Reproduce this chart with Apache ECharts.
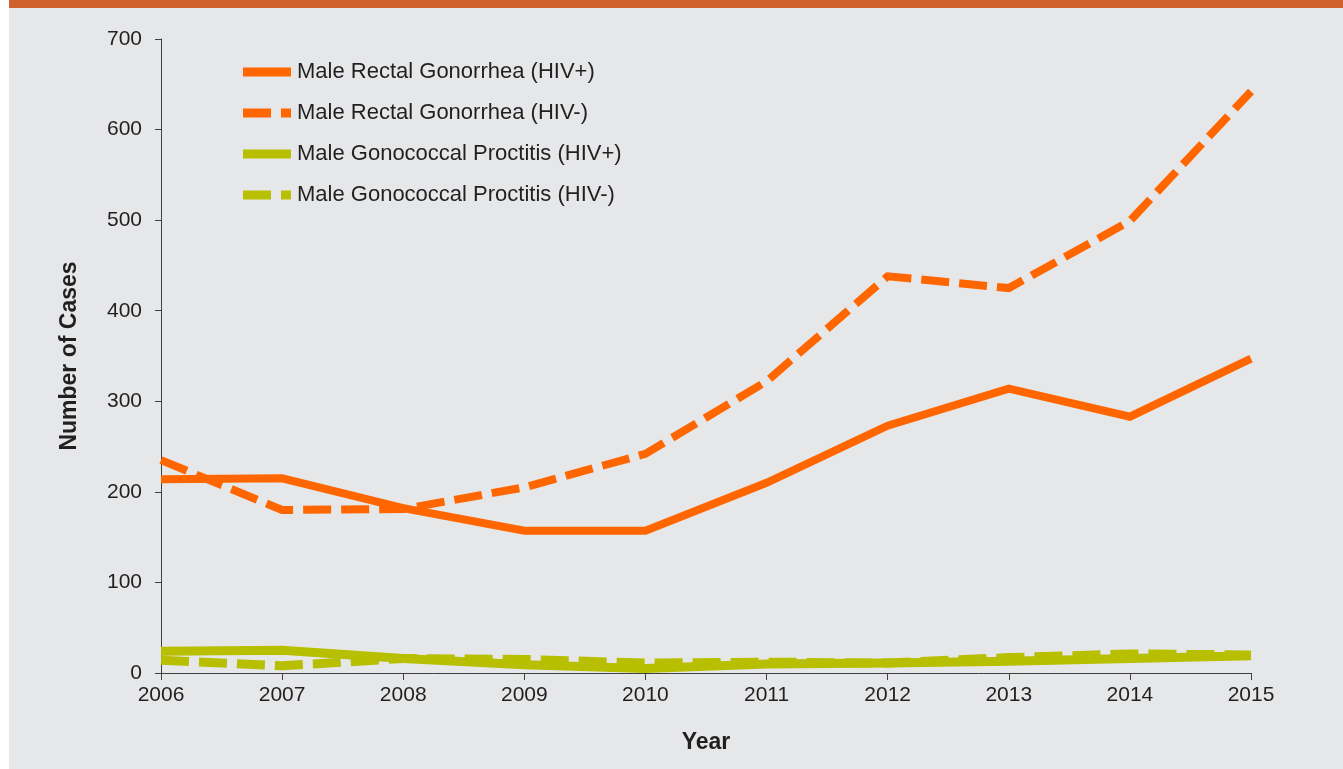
<!DOCTYPE html>
<html>
<head>
<meta charset="utf-8">
<script src="https://cdn.jsdelivr.net/npm/echarts@6/dist/echarts.min.js"></script>
<style>
html,body{margin:0;padding:0;background:#ffffff;}
#chart{width:1343px;height:769px;}
</style>
</head>
<body>
<div id="chart"></div>
<script>
const years = ['2006','2007','2008','2009','2010','2011','2012','2013','2014','2015'];
const rectalHivPos = [214, 215, 182, 157, 157, 210, 273, 314, 283, 347];
const rectalHivNeg = [235, 180, 181, 205, 242, 322, 438, 425, 499, 642];
const proctitisHivPos = [24, 25, 16, 9, 5, 10, 11, 13, 16, 19];
const proctitisHivNeg = [14, 8, 16, 15, 11, 12, 11, 17, 21, 20];
const seriesNames = [
  'Male Rectal Gonorrhea (HIV+)',
  'Male Rectal Gonorrhea (HIV-)',
  'Male Gonococcal Proctitis (HIV+)',
  'Male Gonococcal Proctitis (HIV-)'
];

const ORANGE = '#FF6600';
const GREEN = '#B7BF00';
const TEXT = '#231F20';
const FONT = 'Liberation Sans, Arial, sans-serif';
const dashIcon = 'path://M0,0H28V9H0Z M38,0H48V9H38Z';

const chart = echarts.init(document.getElementById('chart'), null, {renderer: 'canvas'});
chart.setOption({
  backgroundColor: '#ffffff',
  animation: false,
  textStyle: {fontFamily: FONT, color: TEXT},
  graphic: [
    {type: 'rect', z: -10, shape: {x: 9, y: 8, width: 1334, height: 761}, style: {fill: '#E6E7E8'}},
    {type: 'rect', z: -10, shape: {x: 9, y: 0, width: 1334, height: 8}, style: {fill: '#D0612A'}}
  ],
  grid: {left: 161, right: 92, top: 39, bottom: 96, containLabel: false},
  legend: {
    orient: 'vertical',
    left: 238,
    top: 56,
    itemWidth: 48,
    itemHeight: 9,
    itemGap: 19,
    textStyle: {fontFamily: FONT, fontSize: 22, color: TEXT, padding: [0, 0, 0, 1]},
    data: [
      {name: seriesNames[0], icon: 'rect', itemStyle: {color: ORANGE}},
      {name: seriesNames[1], icon: dashIcon, itemStyle: {color: ORANGE}},
      {name: seriesNames[2], icon: 'rect', itemStyle: {color: GREEN}},
      {name: seriesNames[3], icon: dashIcon, itemStyle: {color: GREEN}}
    ]
  },
  xAxis: {
    type: 'category',
    data: years,
    boundaryGap: false,
    name: 'Year',
    nameLocation: 'middle',
    nameGap: 58,
    nameTextStyle: {fontFamily: FONT, fontSize: 23, fontWeight: 'bold', color: TEXT},
    axisLine: {show: true, lineStyle: {color: '#404040', width: 1}},
    axisTick: {show: true, alignWithLabel: true, length: 7, lineStyle: {color: '#404040'}},
    axisLabel: {fontFamily: FONT, fontSize: 21, color: TEXT, margin: 12},
    splitLine: {show: false}
  },
  yAxis: {
    type: 'value',
    min: 0,
    max: 700,
    interval: 100,
    name: 'Number of Cases',
    nameLocation: 'middle',
    nameGap: 80,
    nameRotate: 90,
    nameTextStyle: {fontFamily: FONT, fontSize: 23, fontWeight: 'bold', color: TEXT},
    axisLine: {show: true, lineStyle: {color: '#404040', width: 1}},
    axisTick: {show: true, length: 6, lineStyle: {color: '#404040'}},
    axisLabel: {fontFamily: FONT, fontSize: 21, color: TEXT, margin: 19},
    splitLine: {show: false}
  },
  series: [
    {name: seriesNames[0], type: 'line', data: rectalHivPos, symbol: 'none',
     lineStyle: {color: ORANGE, width: 8, cap: 'butt', join: 'miter'}, itemStyle: {color: ORANGE}, z: 2},
    {name: seriesNames[1], type: 'line', data: rectalHivNeg, symbol: 'none',
     lineStyle: {color: ORANGE, width: 8, type: [28, 10], cap: 'butt', join: 'miter'}, itemStyle: {color: ORANGE}, z: 3},
    {name: seriesNames[2], type: 'line', data: proctitisHivPos, symbol: 'none',
     lineStyle: {color: GREEN, width: 9, cap: 'butt', join: 'miter'}, itemStyle: {color: GREEN}, z: 4},
    {name: seriesNames[3], type: 'line', data: proctitisHivNeg, symbol: 'none',
     lineStyle: {color: GREEN, width: 9, type: [28, 10], cap: 'butt', join: 'miter'}, itemStyle: {color: GREEN}, z: 5}
  ]
});
</script>
</body>
</html>
